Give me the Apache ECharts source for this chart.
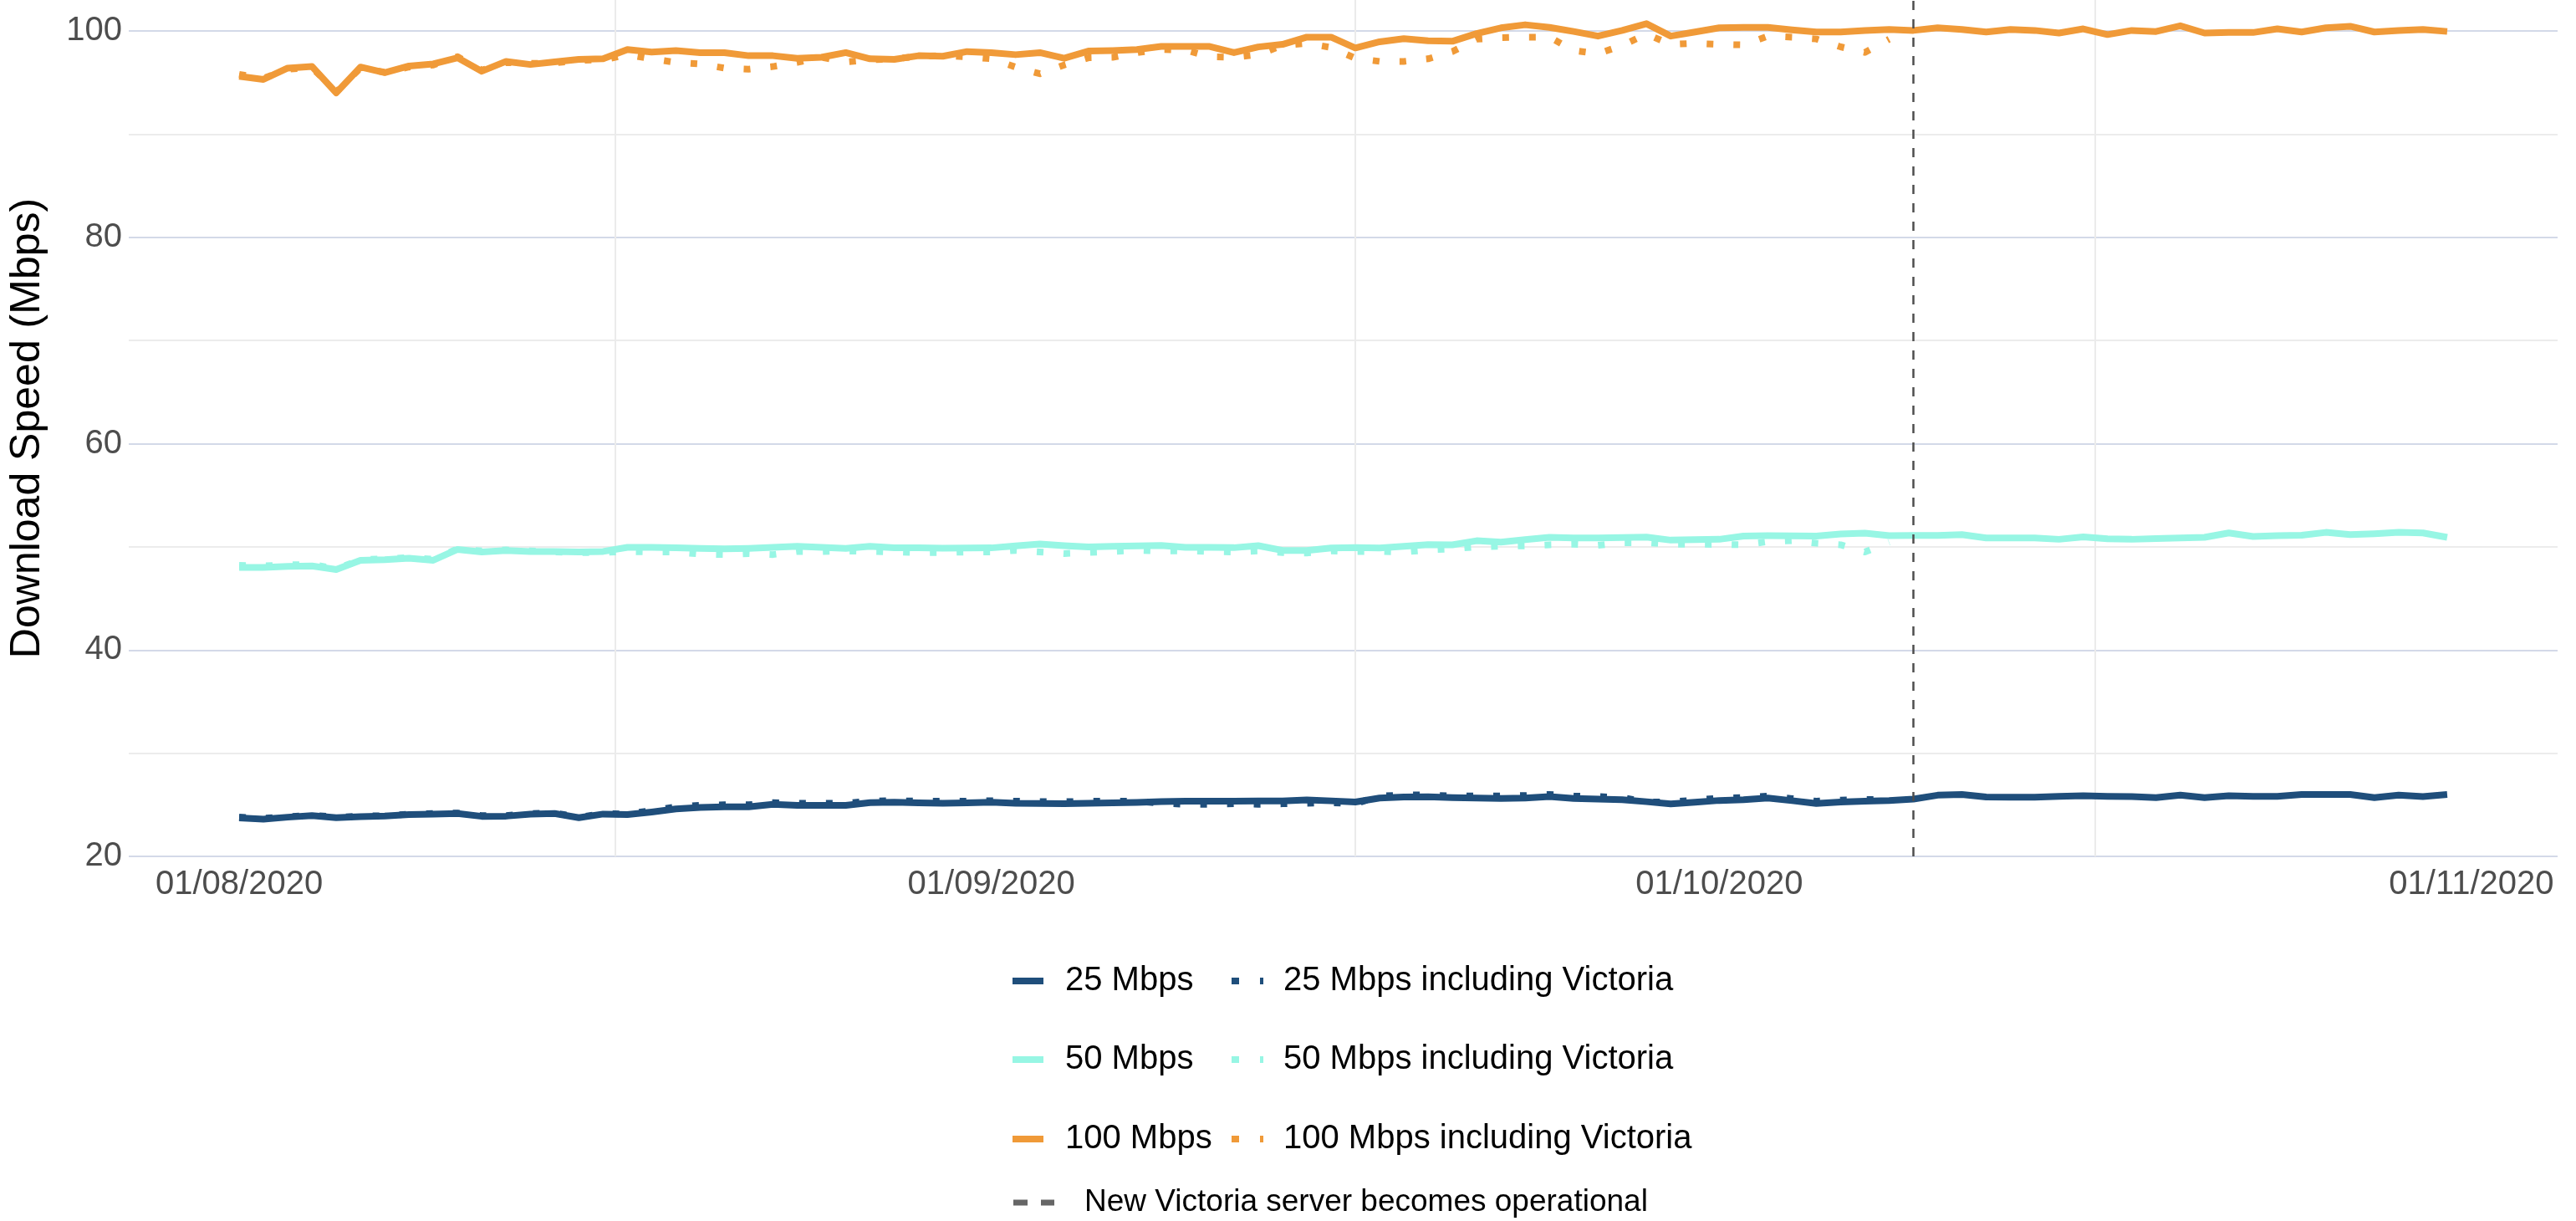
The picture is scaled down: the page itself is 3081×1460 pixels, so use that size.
<!DOCTYPE html>
<html>
<head>
<meta charset="utf-8">
<title>Download speed</title>
<script src="https://cdn.jsdelivr.net/npm/echarts@6/dist/echarts.min.js"></script>
<style>
html, body { margin: 0; padding: 0; background: #fff; }
#main { width: 3081px; height: 1460px; }
</style>
</head>
<body>
<div id="main"></div>
<script>
// daily averages, 01/08/2020 .. 31/10/2020
var firstDay = [2020, 7, 1];
var dayCount = 92;
var serverDay = [2020, 9, 9];   // new Victoria server goes live
var monthStarts = [[2020, 7, 1], [2020, 8, 1], [2020, 9, 1], [2020, 10, 1]];

var speed25 = [23.72, 23.6, 23.8, 23.95, 23.75, 23.85, 23.92, 24.05, 24.1, 24.15,
    23.88, 23.9, 24.1, 24.15, 23.75, 24.1, 24.05, 24.3, 24.6, 24.75,
    24.8, 24.8, 25.05, 24.95, 24.95, 24.95, 25.2, 25.25, 25.18, 25.15,
    25.18, 25.25, 25.15, 25.12, 25.1, 25.15, 25.18, 25.22, 25.3, 25.35,
    25.35, 25.35, 25.36, 25.37, 25.47, 25.38, 25.27, 25.65, 25.75, 25.78,
    25.7, 25.65, 25.62, 25.65, 25.8, 25.62, 25.55, 25.5, 25.3, 25.08,
    25.25, 25.42, 25.5, 25.65, 25.4, 25.12, 25.27, 25.35, 25.42, 25.55,
    25.93, 26.0, 25.75, 25.74, 25.74, 25.82, 25.88, 25.82, 25.8, 25.69,
    25.93, 25.7, 25.88, 25.82, 25.82, 26.0, 26.0, 26.0, 25.69, 25.93,
    25.8, 26.0];
var speed25Vic = [23.8, 23.7, 23.85, 24.0, 23.8, 23.9, 23.95, 24.1, 24.15, 24.2,
    23.95, 23.95, 24.15, 24.2, 23.8, 24.15, 24.1, 24.45, 24.8, 24.95,
    25.0, 25.0, 25.2, 25.15, 25.15, 25.15, 25.35, 25.4, 25.35, 25.35,
    25.35, 25.4, 25.35, 25.3, 25.3, 25.35, 25.35, 25.35, 25.15, 25.05,
    25.05, 25.1, 25.05, 25.1, 25.15, 25.2, 25.1, 25.85, 25.95, 25.95,
    25.85, 25.85, 25.85, 25.9, 26.0, 25.85, 25.8, 25.7, 25.25, 25.3,
    25.45, 25.65, 25.7, 25.85, 25.6, 25.35, 25.45, 25.5, 25.55];
var speed50 = [48.0, 48.0, 48.1, 48.15, 47.8, 48.7, 48.75, 48.9, 48.7, 49.75,
    49.5, 49.65, 49.55, 49.55, 49.5, 49.55, 49.95, 49.95, 49.9, 49.85,
    49.8, 49.85, 49.95, 50.05, 49.95, 49.85, 50.05, 49.9, 49.9, 49.86,
    49.88, 49.9, 50.1, 50.27, 50.11, 50.0, 50.05, 50.1, 50.14, 49.95,
    49.95, 49.92, 50.11, 49.65, 49.65, 49.89, 49.92, 49.89, 50.05, 50.22,
    50.19, 50.59, 50.46, 50.7, 50.92, 50.86, 50.86, 50.9, 50.95, 50.65,
    50.7, 50.73, 51.05, 51.08, 51.06, 51.05, 51.24, 51.32, 51.08, 51.1,
    51.1, 51.19, 50.86, 50.86, 50.86, 50.73, 50.97, 50.78, 50.73, 50.8,
    50.86, 50.92, 51.35, 51.0, 51.08, 51.13, 51.4, 51.19, 51.27, 51.4,
    51.35, 50.92];
var speed50Vic = [48.2, 48.15, 48.25, 48.3, 47.85, 48.75, 48.85, 48.95, 48.8, 49.8,
    49.6, 49.7, 49.6, 49.5, 49.45, 49.45, 49.55, 49.5, 49.5, 49.3,
    49.25, 49.35, 49.25, 49.55, 49.55, 49.6, 49.55, 49.5, 49.43, 49.45,
    49.5, 49.5, 49.65, 49.5, 49.35, 49.45, 49.55, 49.65, 49.6, 49.6,
    49.55, 49.5, 49.6, 49.45, 49.4, 49.6, 49.55, 49.55, 49.5, 49.7,
    49.8, 50.0, 50.05, 50.1, 50.2, 50.25, 50.15, 50.4, 50.4, 50.25,
    50.25, 50.24, 50.2, 50.5, 50.6, 50.35, 50.2, 49.5, 50.45];
var speed100 = [95.6, 95.3, 96.4, 96.55, 94.0, 96.5, 95.95, 96.6, 96.8, 97.4,
    96.1, 97.05, 96.75, 97.0, 97.25, 97.3, 98.2, 97.95, 98.1, 97.9,
    97.9, 97.6, 97.6, 97.35, 97.45, 97.9, 97.3, 97.25, 97.6, 97.55,
    98.0, 97.9, 97.7, 97.9, 97.35, 98.05, 98.1, 98.2, 98.5, 98.5,
    98.5, 97.9, 98.45, 98.7, 99.4, 99.4, 98.35, 98.95, 99.25, 99.05,
    99.0, 99.75, 100.3, 100.6, 100.35, 99.95, 99.5, 100.05, 100.7, 99.5,
    99.9, 100.3, 100.35, 100.35, 100.1, 99.9, 99.9, 100.05, 100.15, 100.05,
    100.3, 100.15, 99.9, 100.15, 100.05, 99.8, 100.2, 99.65, 100.05, 99.95,
    100.5, 99.8, 99.85, 99.85, 100.2, 99.9, 100.3, 100.45, 99.9, 100.05,
    100.15, 99.95];
var speed100Vic = [95.8, 95.4, 96.3, 96.45, 94.1, 96.4, 96.0, 96.5, 96.7, 97.5,
    96.2, 96.95, 96.85, 96.9, 97.15, 97.2, 97.7, 97.3, 96.95, 96.8,
    96.4, 96.3, 96.55, 96.95, 97.45, 97.0, 97.2, 97.3, 97.55, 97.6,
    97.5, 97.3, 96.5, 95.85, 96.7, 97.4, 97.45, 97.9, 98.2, 98.15,
    97.5, 97.45, 97.7, 98.6, 98.8, 98.4, 97.35, 97.05, 97.05, 97.3,
    98.0, 99.2, 99.35, 99.4, 99.4, 98.1, 97.8, 98.6, 99.7, 98.7,
    98.8, 98.7, 98.65, 99.5, 99.4, 99.22, 98.46, 97.92, 99.2];

var NAVY = '#1f4e7b', TEAL = '#97f6e4', ORANGE = '#f09a38';
var FONT = '"Liberation Sans", Arial, sans-serif';
var DAY = 24 * 3600 * 1000;

function ts(d) { return Date.UTC(d[0], d[1], d[2]); }
function dayIndex(d) { return Math.round((ts(d) - ts(firstDay)) / DAY); }
function pad(n) { return n < 10 ? '0' + n : '' + n; }

// x positions are days since 01/08/2020
var days = [];
for (var i = 0; i < dayCount; i++) days.push(i);
function pairs(values) {
    var out = [];
    for (var i = 0; i < values.length; i++) out.push([days[i], values[i]]);
    return out;
}

var labelTicks = monthStarts.map(dayIndex);
// ggplot minor breaks sit halfway between the month breaks
var gridTicks = [];
for (var k = 1; k < labelTicks.length; k++) gridTicks.push((labelTicks[k - 1] + labelTicks[k]) / 2);

var span = days[days.length - 1] - days[0];
var xMin = days[0] - span * 0.05;
var xMax = days[days.length - 1] + span * 0.05;

function solid(name, color, values) {
    return {
        name: name, type: 'line', data: pairs(values), color: color,
        showSymbol: false, z: 3,
        lineStyle: { color: color, width: 8, cap: 'butt', join: 'round' }
    };
}
function dotted(name, color, values) {
    return {
        name: name, type: 'line', data: pairs(values), color: color,
        showSymbol: false, z: 2,
        lineStyle: { color: color, width: 8, type: [8, 24], cap: 'butt', join: 'round' }
    };
}

var ICON_SOLID = 'path://M0,0h37v8h-37z';
var ICON_DOT = 'path://M0,0h9v8h-9z M34,0h4v8h-4z';
var ICON_DASH = 'path://M0,0h17v7h-17z M33,0h16v7h-16z';

function legendItem(name, left, centerY, icon, w, h, size, gap) {
    return {
        data: [{ name: name, icon: icon }],
        left: left, top: centerY - 22, padding: 0,
        itemWidth: w, itemHeight: h, selectedMode: false,
        itemStyle: { borderWidth: 0 },
        textStyle: { fontSize: size, lineHeight: 44, color: '#000', fontFamily: FONT, padding: [0, 0, 0, gap] }
    };
}

var chart = echarts.init(document.getElementById('main'));
chart.setOption({
    animation: false,
    backgroundColor: '#fff',
    textStyle: { fontFamily: FONT },
    grid: { left: 153, right: 22, top: 0, bottom: 436, containLabel: false },
    xAxis: {
        type: 'value', min: xMin, max: xMax,
        axisLine: { show: false },
        axisTick: { show: false, customValues: gridTicks },
        axisLabel: {
            customValues: labelTicks, color: '#4d4d4d', fontSize: 40, margin: 14,
            formatter: function (v) {
                var d = new Date(ts(firstDay) + v * DAY);
                return pad(d.getUTCDate()) + '/' + pad(d.getUTCMonth() + 1) + '/' + d.getUTCFullYear();
            }
        },
        splitLine: { show: true, lineStyle: { color: '#ebebeb', width: 2 } }
    },
    yAxis: {
        type: 'value', min: 20, max: 103, interval: 10,
        name: 'Download Speed (Mbps)', nameLocation: 'middle', nameGap: 96, nameRotate: 90,
        nameTextStyle: { fontSize: 50, color: '#000' },
        axisLine: { show: false }, axisTick: { show: false },
        axisLabel: {
            color: '#4d4d4d', fontSize: 40, margin: 8, showMaxLabel: false,
            formatter: function (v) { return (v % 20 === 0 && v <= 100) ? String(v) : ''; }
        },
        splitLine: { show: true, showMaxLine: false, lineStyle: { color: ['#d3d9e8', '#ececec'], width: 2 } }
    },
    legend: [
        legendItem('25 Mbps', 1211, 1173, ICON_SOLID, 37, 8, 40, 21),
        legendItem('50 Mbps', 1211, 1267, ICON_SOLID, 37, 8, 40, 21),
        legendItem('100 Mbps', 1211, 1362, ICON_SOLID, 37, 8, 40, 21),
        legendItem('25 Mbps including Victoria', 1473, 1173, ICON_DOT, 38, 8, 40, 19),
        legendItem('50 Mbps including Victoria', 1473, 1267, ICON_DOT, 38, 8, 40, 19),
        legendItem('100 Mbps including Victoria', 1473, 1362, ICON_DOT, 38, 8, 40, 19),
        legendItem('New Victoria server becomes operational', 1212, 1438, ICON_DASH, 49, 7, 37, 31)
    ],
    series: [
        dotted('25 Mbps including Victoria', NAVY, speed25Vic),
        dotted('50 Mbps including Victoria', TEAL, speed50Vic),
        dotted('100 Mbps including Victoria', ORANGE, speed100Vic),
        solid('25 Mbps', NAVY, speed25),
        solid('50 Mbps', TEAL, speed50),
        solid('100 Mbps', ORANGE, speed100),
        {
            name: 'New Victoria server becomes operational', type: 'line', data: [],
            color: '#666666', z: 4,
            markLine: {
                silent: true, symbol: ['none', 'none'], label: { show: false },
                lineStyle: { color: '#4d4d4d', width: 2.5, type: [11, 11] },
                data: [{ xAxis: dayIndex(serverDay) }]
            }
        }
    ]
});
</script>
</body>
</html>
